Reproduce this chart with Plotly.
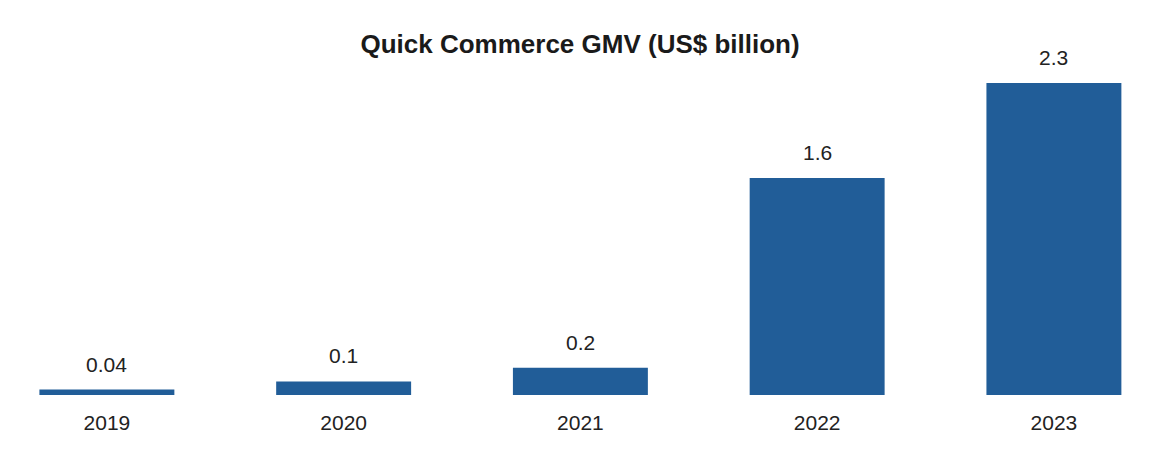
import plotly.graph_objects as go

years = ["2019", "2020", "2021", "2022", "2023"]
gmv = [0.04, 0.1, 0.2, 1.6, 2.3]
labels = ["0.04", "0.1", "0.2", "1.6", "2.3"]

fig = go.Figure()

fig.add_trace(
    go.Bar(x=years, y=gmv, width=0.57,
           marker=dict(color='#215d98', line=dict(width=0)),
           hoverinfo='x+y', showlegend=False)
)

# value labels above bars (category index positions)
for i, (val, lab) in enumerate(zip(gmv, labels)):
    fig.add_annotation(
        x=i, y=val, text=lab, showarrow=False,
        xref='x', yref='y',
        yanchor='bottom', yshift=12,
        font=dict(size=21, color='#222222')
    )

fig.update_layout(
    title=dict(text="<b>Quick Commerce GMV (US$ billion)</b>",
               x=0.4906, xanchor='center', y=0.922, yanchor='middle',
               font=dict(size=26, color='#1a1a1a')),
    font=dict(family="Liberation Sans, Arial, sans-serif", size=21, color='#222222'),
    width=1166,
    height=462,
    margin=dict(t=62, b=75, l=12, r=28),
    plot_bgcolor='white',
    paper_bgcolor='white',
    bargap=0.43,
)

fig.update_xaxes(type='category', range=[-0.367, 4.389], showline=False, showgrid=False,
                 ticks='outside', ticklen=9, tickcolor='white',
                 tickfont=dict(size=21))
fig.update_yaxes(range=[0, 2.395], visible=False, showgrid=False, zeroline=False)

fig.write_html("out.html")
